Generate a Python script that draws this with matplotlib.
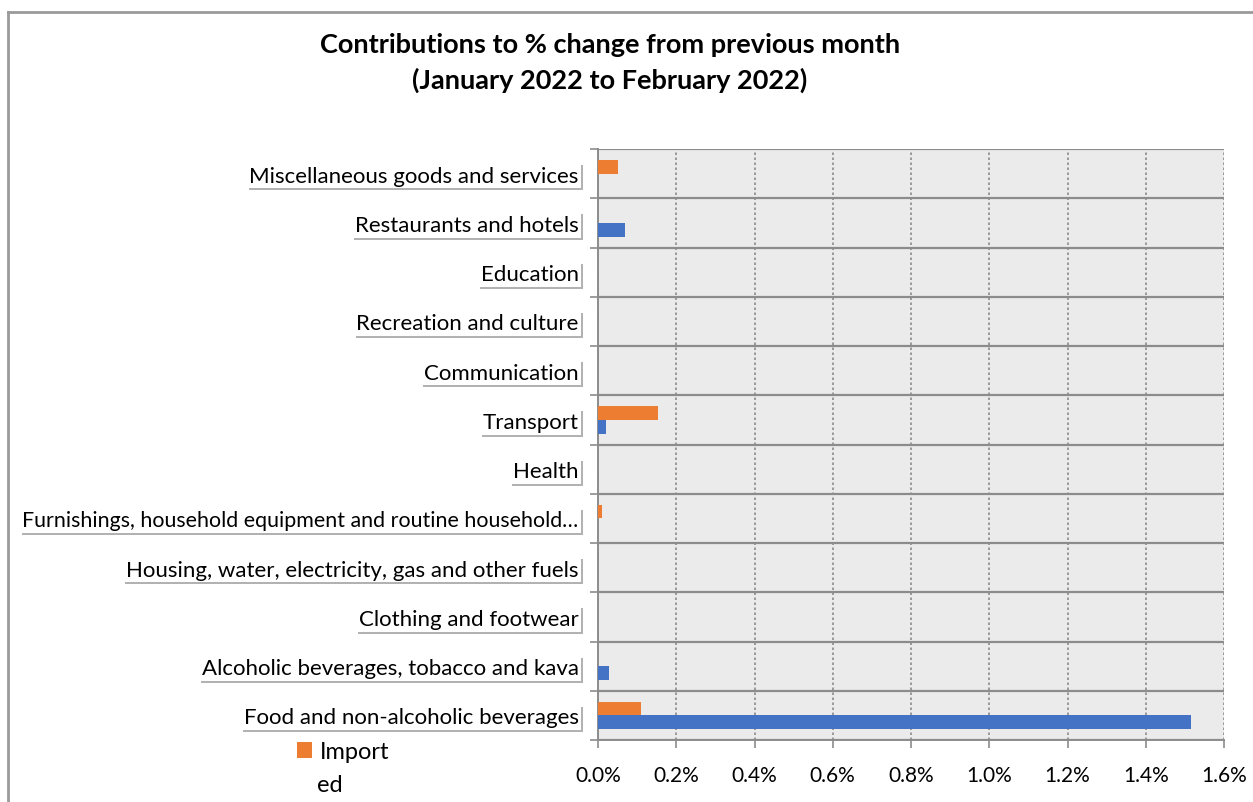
import numpy as np
import matplotlib.pyplot as plt
import matplotlib.patheffects as pe
from matplotlib.ticker import FuncFormatter

# -----------------------------
# Data (bottom to top)
# -----------------------------

categories = [
    "Food and non-alcoholic beverages",
    "Alcoholic beverages, tobacco and kava",
    "Clothing and footwear",
    "Housing, water, electricity, gas and other fuels",
    "Furnishings, household equipment and routine household\u2026",
    "Health",
    "Transport",
    "Communication",
    "Recreation and culture",
    "Education",
    "Restaurants and hotels",
    "Miscellaneous goods and services",
]
imported = [0.109, 0.0, 0.0, 0.0, 0.011, 0.0, 0.153, 0.0, 0.0, 0.0, 0.0, 0.050]
local = [1.516, 0.028, 0.0, 0.0, 0.0, 0.0, 0.021, 0.0, 0.0, 0.0, 0.069, 0.0]
xticks = np.arange(0, 1.61, 0.2)

# -----------------------------
# Figure
# -----------------------------

plt.rcParams['font.family'] = ['Lato', 'DejaVu Sans']

W, H = 1253, 803
fig = plt.figure(figsize=(W/100, H/100), dpi=100)
ax = fig.add_axes([598/W, 1 - 741/H, 626/W, 591/H])
ax.set_facecolor('#ebebeb')

y = np.arange(len(categories))
h = 0.28
ax.barh(y + h/2, imported, height=h, color='#ed7d31', edgecolor='none', label='Import', zorder=3)
ax.barh(y - h/2, local, height=h, color='#4472c4', edgecolor='none', label='Local', zorder=3)

ax.set_xlim(0, 1.6)
ax.set_ylim(-0.5, len(categories) - 0.5)

ax.set_xticks(xticks)
ax.xaxis.set_major_formatter(FuncFormatter(lambda v, p: f"{v:.1f}%"))
ax.tick_params(axis='x', length=6, width=1.2, color='#8c8c8c', labelsize=15, pad=12)

ax.set_yticks(y)
ax.set_yticklabels(categories)
ax.set_yticks(np.arange(-0.5, len(categories)), minor=True)
ax.tick_params(axis='y', which='major', length=0, labelsize=16, pad=14)
ax.tick_params(axis='y', which='minor', length=6, width=1.2, color='#8c8c8c')

ax.grid(axis='x', which='major', color='#8c8c8c', linestyle=(0, (1.5, 1.5)), linewidth=1.2, zorder=1)
ax.grid(axis='y', which='minor', color='#8c8c8c', linestyle='-', linewidth=1.6, zorder=1)
ax.set_axisbelow(True)

for s in ['top', 'right']:
    ax.spines[s].set_visible(False)
for s in ['left', 'bottom']:
    ax.spines[s].set_color('#8c8c8c')
    ax.spines[s].set_linewidth(1.4)

# white label boxes with a soft shadow
for lbl in ax.get_yticklabels():
    if len(lbl.get_text()) > 50:
        lbl.set_fontsize(15.4)
    lbl.set_bbox(dict(facecolor='white', edgecolor='none', pad=2))
    lbl.get_bbox_patch().set_path_effects(
        [pe.withSimplePatchShadow(offset=(1.5, -1.5), shadow_rgbFace='#666666', alpha=0.5),
         pe.Normal()])

# title
fig.text(610/W, 1 - 45/H, "Contributions to % change from previous month",
         ha='center', va='center', fontsize=19.5, fontweight='bold')
fig.text(610/W, 1 - 80/H, "(January 2022 to February 2022)",
         ha='center', va='center', fontsize=19.5, fontweight='bold')

# legend (only the imported entry is visible, wrapped)
handles, labels = ax.get_legend_handles_labels()
leg = fig.legend(handles[:1], labels[:1], loc='center left',
                 bbox_to_anchor=(297/W, 1 - 753/H), frameon=False,
                 fontsize=17, handlelength=0.65, handleheight=0.65, handletextpad=0.3,
                 borderpad=0, borderaxespad=0)
fig.text(317/W, 1 - 786/H, "ed", ha='left', va='center', fontsize=17)

# outer border
fig.add_artist(plt.Line2D([8/W, 8/W], [0, 1 - 13/H], color='#9a9a9a', lw=2))
fig.add_artist(plt.Line2D([8/W, 1], [1 - 13/H, 1 - 13/H], color='#9a9a9a', lw=2))

fig.savefig("out.png", dpi=100)
